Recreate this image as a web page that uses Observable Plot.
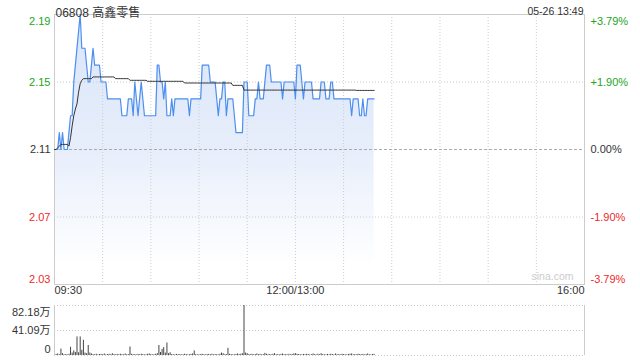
<!DOCTYPE html>
<html><head><meta charset="utf-8">
<script src="https://cdn.jsdelivr.net/npm/d3@7"></script>
<script src="https://cdn.jsdelivr.net/npm/@observablehq/plot@0.6"></script>
<style>
html,body{margin:0;padding:0;background:#fff;}
#wrap{position:relative;width:640px;height:360px;overflow:hidden;}
#price{position:absolute;left:0;top:0;}
#vol{position:absolute;left:0;top:300px;}
</style></head><body><div id="wrap"><div id="price"></div><div id="vol"></div></div>
<script>
// ---- data ----
const title = "06808 高鑫零售";
const stamp = "05-26 13:49";
const sessionMinutes = 330;
const prevClose = 2.11;
const priceTicks = [2.03, 2.07, 2.11, 2.15, 2.19];
const pctLabels = ["-3.79%", "-1.90%", "0.00%", "+1.90%", "+3.79%"];
const gridMinutes = [30, 60, 90, 120, 150, 180, 210, 240, 270, 300];
const timeTickMinutes = [0, 150, 330];
const timeLabels = ["09:30", "12:00/13:00", "16:00"];
const volTickValues = [0, 410900, 821800];
const volTickLabels = ["0", "41.09万", "82.18万"];

const price = [
2.11,2.11,2.11,2.12,2.11,2.12,2.11,2.11,2.11,2.12,2.13,2.13,2.15,2.16,2.17,2.18,2.19,2.17,2.17,2.17,
2.16,2.15,2.15,2.16,2.17,2.16,2.16,2.16,2.16,2.15,2.15,2.15,2.15,2.14,2.14,2.14,2.14,2.14,2.14,2.14,
2.14,2.14,2.13,2.13,2.13,2.13,2.14,2.14,2.14,2.13,2.15,2.14,2.13,2.14,2.15,2.14,2.13,2.13,2.13,2.13,
2.13,2.13,2.13,2.13,2.16,2.16,2.15,2.15,2.14,2.15,2.13,2.13,2.13,2.14,2.13,2.14,2.14,2.14,2.14,2.14,
2.14,2.14,2.14,2.14,2.13,2.14,2.14,2.14,2.14,2.14,2.14,2.14,2.16,2.16,2.16,2.16,2.16,2.15,2.15,2.15,
2.15,2.14,2.13,2.14,2.14,2.15,2.15,2.13,2.14,2.14,2.14,2.14,2.13,2.12,2.12,2.12,2.12,2.12,2.15,2.15,
2.15,2.13,2.13,2.13,2.13,2.14,2.14,2.15,2.14,2.14,2.14,2.15,2.16,2.16,2.16,2.15,2.15,2.15,2.15,2.15,
2.15,2.15,2.14,2.15,2.15,2.15,2.15,2.15,2.15,2.15,2.14,2.16,2.16,2.16,2.15,2.14,2.15,2.15,2.15,2.15,
2.15,2.14,2.14,2.14,2.14,2.14,2.15,2.15,2.15,2.14,2.14,2.14,2.15,2.15,2.14,2.14,2.14,2.14,2.14,2.14,
2.14,2.14,2.14,2.14,2.14,2.13,2.14,2.14,2.14,2.14,2.13,2.13,2.14,2.13,2.13,2.14,2.14,2.14,2.14,2.14
];

const avg = [
2.110,2.110,2.111,2.112,2.113,2.113,2.113,2.113,2.113,2.112,2.117,2.124,2.130,2.134,2.137,2.144,2.149,2.151,2.152,2.152,
2.152,2.152,2.152,2.152,2.153,2.153,2.153,2.153,2.153,2.153,2.153,2.153,2.153,2.153,2.153,2.153,2.153,2.153,2.152,2.152,
2.152,2.152,2.152,2.152,2.152,2.152,2.152,2.151,2.151,2.151,2.151,2.151,2.151,2.151,2.151,2.151,2.151,2.151,2.1504,2.1504,
2.1504,2.1504,2.1504,2.1504,2.1504,2.1504,2.1504,2.1504,2.1504,2.1504,2.1504,2.1504,2.1504,2.1504,2.1504,2.1504,2.1504,2.1504,2.1504,2.1504,
2.1504,2.1494,2.1494,2.1494,2.1494,2.1494,2.1494,2.1494,2.1494,2.1494,2.1494,2.1494,2.1494,2.1494,2.1494,2.1494,2.1494,2.1494,2.1494,2.1494,
2.1494,2.1494,2.1494,2.1494,2.1494,2.1494,2.1494,2.1494,2.1494,2.1494,2.1494,2.148,2.148,2.148,2.148,2.148,2.148,2.148,2.1452,2.1452,
2.1452,2.1452,2.1452,2.1452,2.1452,2.1452,2.1452,2.1452,2.1452,2.1452,2.1452,2.1452,2.1452,2.1452,2.1452,2.1452,2.1452,2.1452,2.1452,2.1452,
2.1452,2.1452,2.1452,2.1452,2.1452,2.1452,2.1452,2.1452,2.1452,2.1452,2.1452,2.1452,2.1452,2.1452,2.1452,2.1452,2.1452,2.1452,2.1452,2.1452,
2.1452,2.1452,2.1452,2.1452,2.1452,2.1452,2.1452,2.1452,2.1452,2.1452,2.1452,2.1452,2.1452,2.1452,2.1452,2.1452,2.1452,2.1452,2.1452,2.1452,
2.1452,2.1452,2.1452,2.1452,2.1452,2.1452,2.1452,2.1452,2.145,2.145,2.145,2.145,2.145,2.145,2.145,2.145,2.145,2.145,2.145,2.145
];

const volume = [
0,18000,25000,12000,105000,30000,12000,15000,10000,20000,135000,40000,75000,50000,305000,45000,305000,85000,250000,40000,
30000,165000,40000,25000,15000,12000,20000,10000,15000,18000,12000,25000,10000,15000,20000,12000,30000,15000,10000,18000,
12000,20000,15000,10000,25000,12000,15000,140000,20000,12000,15000,10000,18000,12000,20000,15000,10000,12000,20000,25000,
15000,10000,12000,20000,30000,165000,50000,100000,130000,40000,205000,30000,45000,15000,12000,10000,18000,12000,15000,10000,
12000,20000,15000,10000,12000,18000,25000,75000,15000,10000,12000,15000,20000,12000,10000,15000,18000,12000,20000,10000,
15000,12000,10000,20000,40000,30000,12000,15000,118000,20000,15000,12000,10000,18000,25000,15000,20000,30000,821800,40000,
30000,15000,12000,20000,10000,15000,25000,12000,18000,10000,15000,35000,20000,12000,15000,10000,20000,30000,12000,15000,
10000,18000,25000,12000,15000,10000,20000,12000,15000,25000,30000,20000,15000,12000,10000,18000,12000,20000,15000,10000,
12000,25000,15000,10000,20000,12000,30000,15000,12000,10000,18000,12000,20000,15000,10000,25000,12000,15000,10000,20000,
15000,12000,10000,18000,20000,25000,12000,15000,10000,20000,15000,12000,18000,10000,15000,25000,12000,10000,15000,20000
];

// ---- chart ----
const FONT = '"Liberation Sans", Arial, "Noto Sans CJK SC", sans-serif';
const GREEN = "#22a522", RED = "#ee2a2a", DARK = "#333";
const data = price.map((p, i) => ({m: i, p, a: avg[i], v: volume[i]}));
const pMin = priceTicks[0], pMax = priceTicks[priceTicks.length - 1];
const tickColor = d => d > prevClose ? GREEN : d < prevClose ? RED : DARK;
const pctRows = priceTicks.map((t, i) => ({t, s: pctLabels[i]}));

const pricePlot = Plot.plot({
  width: 640, height: 300,
  marginTop: 14, marginBottom: 16, marginLeft: 54, marginRight: 56,
  x: {domain: [0, sessionMinutes], axis: null},
  y: {domain: [pMin, pMax], axis: null},
  color: {type: "identity"},
  style: {fontFamily: FONT, fontSize: "11px", background: "white", overflow: "visible"},
  marks: [
    Plot.areaY(data, {x: "m", y1: () => pMin, y2: "p", fill: "url(#pgrad)"}),
    Plot.ruleX(gridMinutes, {stroke: "#ccc", strokeDasharray: "1,2"}),
    Plot.ruleY(priceTicks.filter(t => t !== prevClose && t !== pMin && t !== pMax), {stroke: "#ccc", strokeDasharray: "1,2"}),
    Plot.ruleY([prevClose], {stroke: "#aaa", strokeDasharray: "3,2"}),
    Plot.frame({stroke: "#ccc"}),
    Plot.lineY(data, {x: "m", y: "p", stroke: "#4d8fef", strokeWidth: 1.2}),
    Plot.lineY(data, {x: "m", y: "a", stroke: "#333", strokeWidth: 1}),
    // left price labels
    Plot.text(priceTicks.filter(t => t === pMax), {y: d => d, text: d => d.toFixed(2), frameAnchor: "left", textAnchor: "end", dx: -4, dy: 6.5, fill: tickColor}),
    Plot.text(priceTicks.filter(t => t !== pMax && t !== pMin), {y: d => d, text: d => d.toFixed(2), frameAnchor: "left", textAnchor: "end", dx: -4, fill: tickColor}),
    Plot.text(priceTicks.filter(t => t === pMin), {y: d => d, text: d => d.toFixed(2), frameAnchor: "left", textAnchor: "end", dx: -4, dy: -5.5, fill: tickColor}),
    // right pct labels
    Plot.text(pctRows.filter(r => r.t === pMax), {y: "t", text: "s", frameAnchor: "right", textAnchor: "start", dx: 6, dy: 6.5, fill: r => tickColor(r.t)}),
    Plot.text(pctRows.filter(r => r.t !== pMax && r.t !== pMin), {y: "t", text: "s", frameAnchor: "right", textAnchor: "start", dx: 6, fill: r => tickColor(r.t)}),
    Plot.text(pctRows.filter(r => r.t === pMin), {y: "t", text: "s", frameAnchor: "right", textAnchor: "start", dx: 6, dy: -5.5, fill: r => tickColor(r.t)}),
    // time labels
    Plot.text([0], {x: d => timeTickMinutes[d], text: d => timeLabels[d], frameAnchor: "bottom", textAnchor: "start", dy: 9, fill: DARK}),
    Plot.text([1], {x: d => timeTickMinutes[d], text: d => timeLabels[d], frameAnchor: "bottom", textAnchor: "middle", dy: 9, fill: DARK}),
    Plot.text([2], {x: d => timeTickMinutes[d], text: d => timeLabels[d], frameAnchor: "bottom", textAnchor: "end", dy: 9, fill: DARK}),
    // title & timestamp
    Plot.text([title], {text: d => d, frameAnchor: "top-left", textAnchor: "start", dx: 1, dy: -6.5, fontSize: 12, fill: DARK}),
    Plot.text([stamp], {text: d => d, frameAnchor: "top-right", textAnchor: "end", dx: -1, dy: -6.5, fontSize: 10.5, fill: DARK}),
    // watermark
    Plot.text(["sina.com"], {text: d => d, frameAnchor: "bottom-right", textAnchor: "end", dx: -11, dy: -5, fontSize: 10.5, fill: "#ccc"})
  ]
});
d3.select(pricePlot).insert("defs", ":first-child").html(
  '<linearGradient id="pgrad" x1="0" y1="0" x2="0" y2="1">' +
  '<stop offset="0" stop-color="#d9e5f9"/><stop offset="0.5" stop-color="#e7eefb"/><stop offset="0.93" stop-color="#ffffff"/>' +
  '</linearGradient>');
document.getElementById("price").appendChild(pricePlot);

const vMax = volTickValues[volTickValues.length - 1];
const volRows = volTickValues.map((v, i) => ({v, s: volTickLabels[i]}));
const volPlot = Plot.plot({
  width: 640, height: 60,
  marginTop: 5, marginBottom: 5, marginLeft: 54, marginRight: 56,
  x: {domain: [0, sessionMinutes], axis: null},
  y: {domain: [0, vMax], axis: null},
  style: {fontFamily: FONT, fontSize: "11px", background: "white", overflow: "visible"},
  marks: [
    Plot.ruleY(volTickValues, {stroke: "#ccc", strokeDasharray: "1,2"}),
    Plot.ruleX([0, sessionMinutes], {stroke: "#ccc"}),
    Plot.ruleX(data, {x: "m", y1: () => 0, y2: "v", stroke: "#444", strokeWidth: 1}),
    Plot.text(volRows.filter(r => r.v === vMax), {y: "v", text: "s", frameAnchor: "left", textAnchor: "end", dx: -4, dy: 6.5, fill: DARK}),
    Plot.text(volRows.filter(r => r.v !== vMax && r.v !== 0), {y: "v", text: "s", frameAnchor: "left", textAnchor: "end", dx: -4, fill: DARK}),
    Plot.text(volRows.filter(r => r.v === 0), {y: "v", text: "s", frameAnchor: "left", textAnchor: "end", dx: -4, dy: -6, fill: DARK})
  ]
});
document.getElementById("vol").appendChild(volPlot);
</script></body></html>
